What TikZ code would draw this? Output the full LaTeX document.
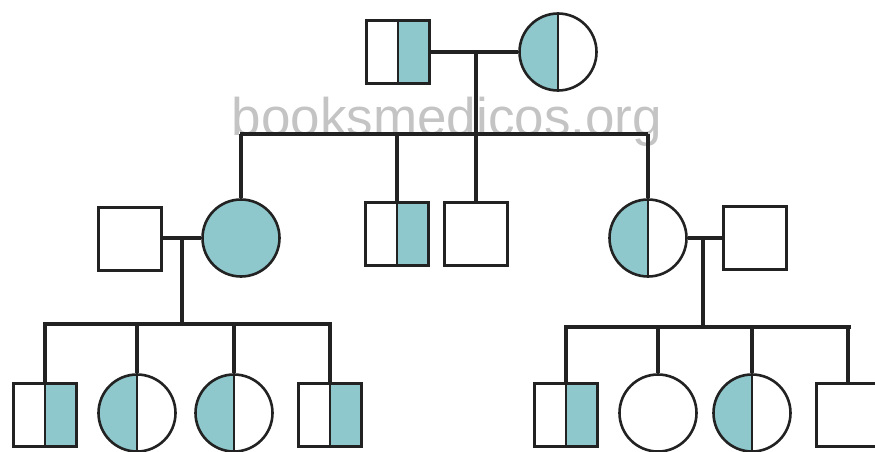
\documentclass[tikz,border=0pt]{standalone}
\usepackage{fontspec}
\usepackage{tikz}
\newfontfamily\wmfont{Liberation Sans}
\definecolor{affected}{RGB}{142,200,204}
\definecolor{ink}{RGB}{34,34,34}
\definecolor{wmgray}{RGB}{196,196,196}
\tikzset{
  male/.style={draw=ink,rectangle,minimum size=63pt,inner sep=0pt,line width=3.5pt},
  female/.style={draw=ink,circle,minimum size=77pt,inner sep=0pt,line width=2.6pt},
  malecarrier/.style={male,path picture={
    \fill[affected] (path picture bounding box.south) rectangle (path picture bounding box.north east);
    \draw[ink,line width=1.5pt] (path picture bounding box.south) -- (path picture bounding box.north);}},
  femalecarrier/.style={female,path picture={
    \fill[affected] (path picture bounding box.south west) rectangle (path picture bounding box.north);
    \draw[ink,line width=1.2pt] (path picture bounding box.south) -- (path picture bounding box.north);}},
  femaleaffected/.style={female,fill=affected},
  link/.style={ink,line width=3.3pt}
}
\begin{document}
\begin{tikzpicture}[x=1pt,y=-1pt]
\useasboundingbox (0,0) rectangle (875,452);
\clip (0,0) rectangle (875,452);
\node[wmgray,font=\wmfont\fontsize{53}{60}\selectfont] (wm) at (447,122) {booksmedicos.org};
% generation I
\node[malecarrier] (f1) at (398,52) {};
\node[femalecarrier] (m1) at (558,52) {};
\coordinate (j1) at (476,52);
\coordinate (b1l) at (240,134);
\coordinate (b1r) at (648,134);
% generation II
\node[male] (h1) at (130,239) {};
\node[femaleaffected] (d1) at (241,238) {};
\node[malecarrier] (s2) at (397,234) {};
\node[male] (s3) at (476,234) {};
\node[femalecarrier] (d2) at (648,238) {};
\node[male] (h2) at (755,238) {};
\coordinate (j2) at (182,238);
\coordinate (j3) at (703,238);
\coordinate (b2l) at (43,324);
\coordinate (b2r) at (332,324);
\coordinate (b3l) at (564,327);
\coordinate (b3r) at (851,327);
% generation III
\node[malecarrier] (c1) at (45,415) {};
\node[femalecarrier] (c2) at (137,413) {};
\node[femalecarrier] (c3) at (234,413) {};
\node[malecarrier] (c4) at (330,415) {};
\node[malecarrier] (c5) at (566,415) {};
\node[female] (c6) at (658,413) {};
\node[femalecarrier] (c7) at (752,413) {};
\node[male] (c8) at (848,415) {};
% lines
\draw[link] (f1.east |- j1) -- (m1.west |- j1);
\draw[link] (j1) -- (j1 |- b1l);
\draw[link] (b1l) -- (b1r);
\foreach \k in {d1,s2,s3,d2}
  \draw[link] (\k.north |- b1l) -- (\k.north);
\draw[link] (h1.east |- j2) -- (d1.west |- j2);
\draw[link] (j2) -- (j2 |- b2l);
\draw[link] (b2l) -- (b2r);
\foreach \k in {c1,c2,c3,c4}
  \draw[link] (\k.north |- b2l) -- (\k.north);
\draw[link] (d2.east |- j3) -- (h2.west |- j3);
\draw[link] (j3) -- (j3 |- b3l);
\draw[link] (b3l) -- (b3r);
\foreach \k in {c5,c6,c7,c8}
  \draw[link] (\k.north |- b3l) -- (\k.north);
\end{tikzpicture}
\end{document}
